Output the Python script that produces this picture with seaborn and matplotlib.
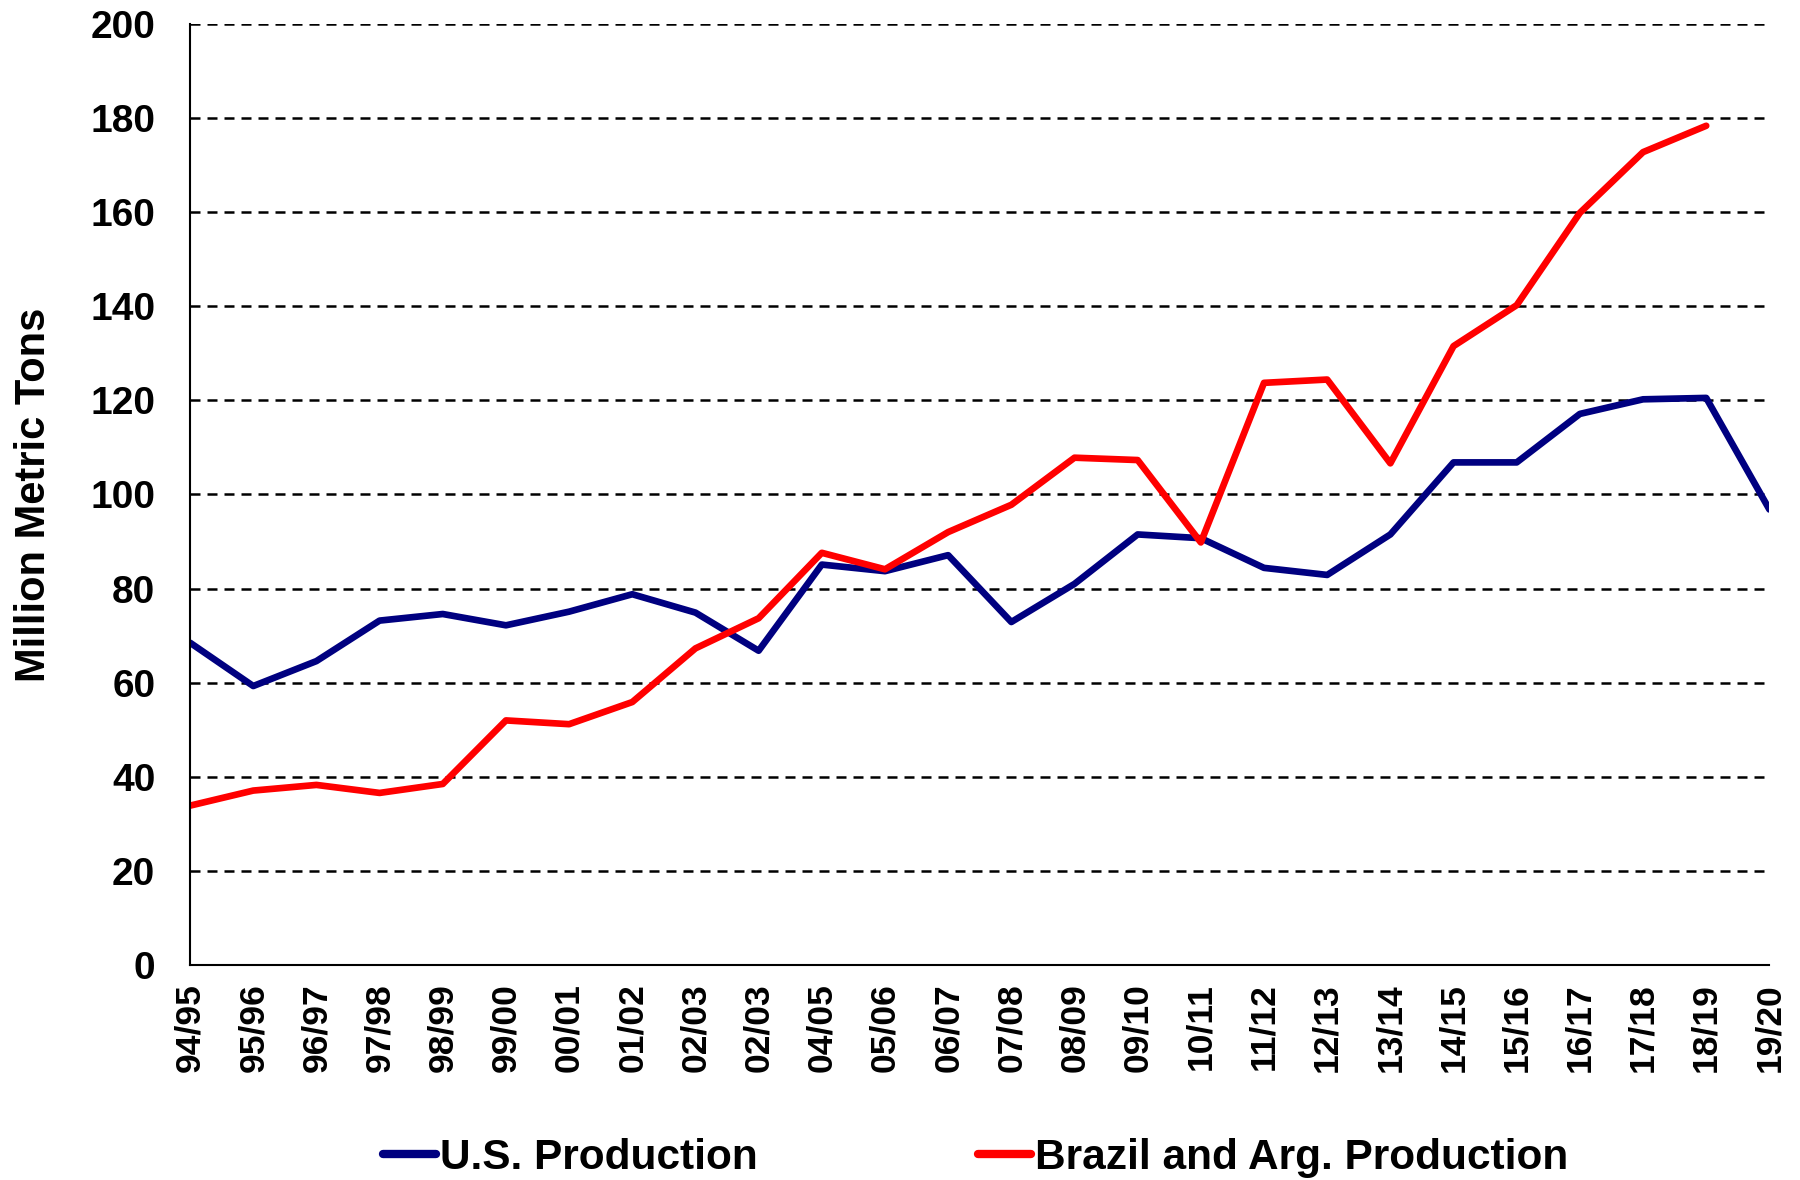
import pandas as pd
import numpy as np
import matplotlib
matplotlib.use('Agg')
import matplotlib.pyplot as plt
import seaborn as sns

# Campañas (la etiqueta 02/03 aparece dos veces en el original)
years = ['94/95', '95/96', '96/97', '97/98', '98/99', '99/00', '00/01', '01/02',
         '02/03', '02/03', '04/05', '05/06', '06/07', '07/08', '08/09', '09/10',
         '10/11', '11/12', '12/13', '13/14', '14/15', '15/16', '16/17', '17/18',
         '18/19', '19/20']

us_prod = [68.5, 59.3, 64.6, 73.2, 74.6, 72.2, 75.1, 78.8, 74.9, 66.8, 85.1, 83.7,
           87.1, 72.9, 81.0, 91.5, 90.7, 84.4, 82.9, 91.5, 106.8, 106.8, 117.1,
           120.2, 120.5, 96.8]

br_arg_prod = [33.9, 37.1, 38.3, 36.6, 38.5, 52.0, 51.2, 55.9, 67.3, 73.7, 87.6, 84.1,
               92.0, 97.8, 107.8, 107.3, 89.8, 123.7, 124.4, 106.6, 131.5, 140.2,
               159.8, 172.7, 178.3, np.nan]

series_names = ['U.S. Production', 'Brazil and Arg. Production']
colors = ['#000080', '#FF0000']

idx = np.arange(len(years))
df = pd.DataFrame({
    'idx': np.concatenate([idx, idx]),
    'valor': us_prod + br_arg_prod,
    'serie': [series_names[0]] * len(years) + [series_names[1]] * len(years),
})

sns.set_style('white')
plt.rcParams['font.family'] = ['Liberation Sans', 'DejaVu Sans']
plt.rcParams['font.weight'] = 'bold'
plt.rcParams['text.color'] = 'black'
plt.rcParams['xtick.color'] = 'black'
plt.rcParams['ytick.color'] = 'black'
plt.rcParams['axes.labelcolor'] = 'black'

fig = plt.figure(figsize=(18, 11.8), dpi=100)
ax = fig.add_axes([0.1056, 0.182, 0.8774, 0.798])

sns.lineplot(data=df, x='idx', y='valor', hue='serie', palette=colors,
             linewidth=4.8, ax=ax, legend=False)

ax.set_xlim(0, len(years) - 1)
ax.set_ylim(0, 200)
ax.set_yticks(np.arange(0, 201, 20))
ax.set_xticks(idx)
ax.set_xticklabels(years, rotation=90, fontsize=25.5, fontweight='bold')
ax.tick_params(axis='y', labelsize=28, direction='inout', length=10, width=1.5, pad=20)
ax.tick_params(axis='x', direction='out', length=10, width=1, color='#555555', pad=3)
for lab in ax.get_yticklabels():
    lab.set_fontweight('bold')

ax.yaxis.grid(True, linestyle=(0, (4, 2.8)), color='black', linewidth=1.8)
ax.set_axisbelow(True)
for side in ['top', 'right']:
    ax.spines[side].set_visible(False)
ax.spines['left'].set_linewidth(1.5)
ax.spines['bottom'].set_linewidth(1.5)
ax.spines['left'].set_color('black')
ax.spines['bottom'].set_color('black')

ax.set_xlabel('')
ax.set_ylabel('Million Metric Tons', fontsize=30, fontweight='bold', labelpad=26)

handles = [plt.Line2D([], [], color=c, linewidth=6, solid_capstyle='round') for c in colors]
fig.legend(handles, series_names, loc='center', bbox_to_anchor=(0.542, 0.019), ncol=2,
           frameon=False, handlelength=1.25, handletextpad=0.1,
           columnspacing=5.2, prop={'weight': 'bold', 'size': 30.5})

fig.savefig('out.png', dpi=100)
